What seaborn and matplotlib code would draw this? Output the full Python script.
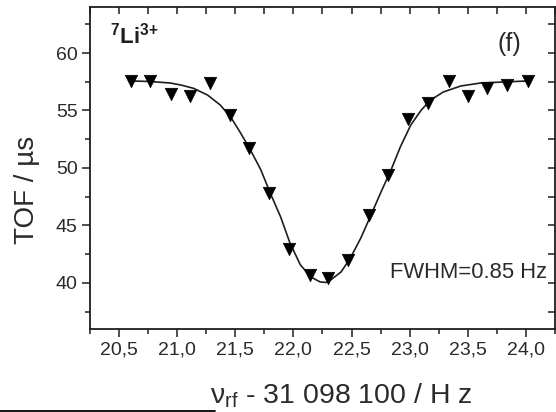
import matplotlib
matplotlib.use("Agg")
import matplotlib.pyplot as plt
from matplotlib.ticker import MultipleLocator, FuncFormatter
from matplotlib.lines import Line2D
import seaborn as sns
import pandas as pd

# Measured time of flight versus excitation frequency offset
freq = [20.60, 20.77, 20.95, 21.11, 21.28, 21.45, 21.62, 21.79, 21.96, 22.14,
        22.30, 22.47, 22.65, 22.81, 22.99, 23.155, 23.34, 23.50, 23.67, 23.84, 24.02]
tof = [57.6, 57.6, 56.45, 56.25, 57.4, 54.6, 51.75, 47.85, 42.95, 40.7,
       40.45, 42.0, 45.9, 49.4, 54.25, 55.65, 57.55, 56.25, 56.95, 57.2, 57.55]

# Fitted resonance line
fit_freq = [20.60, 20.77, 20.94, 21.03, 21.14, 21.26, 21.37, 21.46, 21.54, 21.63,
            21.72, 21.80, 21.89, 21.97, 22.06, 22.15, 22.23, 22.28, 22.32, 22.41,
            22.49, 22.58, 22.66, 22.75, 22.84, 22.92, 23.01, 23.10, 23.18, 23.29,
            23.44, 23.61, 23.81, 24.02]
fit_tof = [57.57, 57.52, 57.39, 57.22, 56.93, 56.35, 55.48, 54.43, 53.13, 51.57,
           49.83, 47.83, 45.74, 43.48, 41.57, 40.52, 40.09, 40.05, 40.26, 40.96,
           42.17, 43.91, 45.74, 47.83, 49.83, 51.83, 53.74, 55.04, 55.91, 56.61,
           57.13, 57.39, 57.48, 57.57]

fwhm_hz = 0.85
xticks = [20.5, 21.0, 21.5, 22.0, 22.5, 23.0, 23.5, 24.0]
yticks = [40, 45, 50, 55, 60]

sns.set_theme(style="white")
plt.rcParams["font.family"] = ["Liberation Sans", "DejaVu Sans"]
plt.rcParams["mathtext.fontset"] = "custom"
plt.rcParams["mathtext.rm"] = "Liberation Sans"
plt.rcParams["mathtext.it"] = "Liberation Sans"
plt.rcParams["mathtext.bf"] = "Liberation Sans:bold"

ink = "#1e1e1e"
text_col = "#2a2a2a"

fig = plt.figure(figsize=(5.56, 4.12), dpi=100)
ax = fig.add_axes([0.162, 0.2015, 0.836, 0.7815])

pts = pd.DataFrame({"freq": freq, "tof": tof})
fit = pd.DataFrame({"freq": fit_freq, "tof": fit_tof})

sns.lineplot(data=fit, x="freq", y="tof", ax=ax, color=ink, lw=1.2, sort=False)
sns.scatterplot(data=pts, x="freq", y="tof", ax=ax, marker="v", s=80,
                color="black", edgecolor="black", linewidth=0.5, zorder=3)

ax.set_xlim(20.25, 24.25)
ax.set_ylim(36, 64)
ax.set_xticks(xticks)
ax.set_yticks(yticks)
ax.xaxis.set_minor_locator(MultipleLocator(0.25))
ax.yaxis.set_minor_locator(MultipleLocator(2.5))
ax.xaxis.set_major_formatter(FuncFormatter(lambda v, _: f"{v:.1f}".replace(".", ",")))

for s in ax.spines.values():
    s.set_color(ink)
    s.set_linewidth(1.3)

ax.tick_params(which="both", direction="out", colors=ink, labelcolor=text_col,
               labelsize=14, width=1.1, bottom=True, left=True, top=False, right=False)
ax.tick_params(which="major", length=6, pad=3)
ax.tick_params(which="minor", length=3.5)

# inward ticks on the top and right frame
top = ax.secondary_xaxis("top")
top.set_xticks([20.5 + 0.25 * i for i in range(-1, 16)])
top.tick_params(direction="in", length=5, width=1.1, colors=ink, labeltop=False)
top.set_xticklabels([])
top.spines["top"].set_visible(False)
right = ax.secondary_yaxis("right")
right.set_yticks([37.5 + 2.5 * i for i in range(11)])
right.tick_params(direction="in", length=5, width=1.1, colors=ink, labelright=False)
right.set_yticklabels([])
right.spines["right"].set_visible(False)

ax.set_xlabel(r"$\mathrm{ν_{rf}}$ - 31 098 100 / H z", fontsize=20.5, color=text_col)
ax.xaxis.label.set_va("baseline")
ax.xaxis.set_label_coords(0.54, -0.232)
ax.set_ylabel("TOF / µs", fontsize=20, color=text_col)
ax.yaxis.label.set_va("center")
ax.yaxis.set_label_coords(-0.135, 0.432)

ax.text(0.042, 0.91, r"$\mathbf{^{7}Li^{3{+}}}$", transform=ax.transAxes, fontsize=16,
        color=ink, ha="left", va="center")
ax.text(0.903, 0.885, "(f)", transform=ax.transAxes, fontsize=18, color=text_col,
        ha="center", va="center")
ax.text(0.984, 0.174, f"FWHM={fwhm_hz} Hz", transform=ax.transAxes, fontsize=15.8,
        color=text_col, ha="right", va="center")

fig.add_artist(Line2D([0, 215 / 556], [1.5 / 412, 1.5 / 412], transform=fig.transFigure,
                      color="black", lw=1.3))

fig.savefig("out.png", dpi=100)
